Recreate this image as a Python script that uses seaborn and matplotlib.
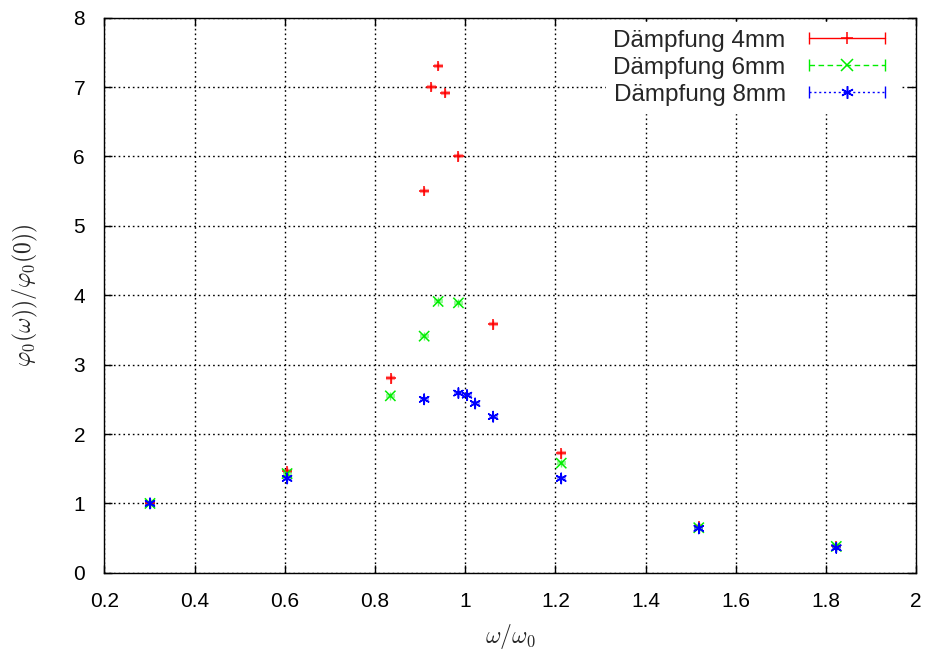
import matplotlib
matplotlib.use("Agg")
import matplotlib.pyplot as plt
from matplotlib.lines import Line2D
from matplotlib.legend_handler import HandlerLine2D, HandlerTuple
import seaborn as sns
import pandas as pd

# Messwerte: omega/omega_0 und Amplitudenverhaeltnis
x_4mm = [0.301, 0.605, 0.835, 0.909, 0.925, 0.940, 0.956, 0.985, 1.062, 1.213, 1.518, 1.823]
y_4mm = [1.01, 1.47, 2.80, 5.50, 7.00, 7.30, 6.91, 6.00, 3.58, 1.72, 0.67, 0.39]

x_6mm = [0.301, 0.605, 0.834, 0.909, 0.940, 0.985, 1.213, 1.518, 1.823]
y_6mm = [1.00, 1.43, 2.55, 3.41, 3.91, 3.89, 1.58, 0.65, 0.38]

x_8mm = [0.301, 0.605, 0.909, 0.985, 1.004, 1.022, 1.062, 1.213, 1.518, 1.823]
y_8mm = [1.00, 1.36, 2.50, 2.59, 2.56, 2.44, 2.25, 1.36, 0.64, 0.36]

labels = ["Dämpfung 4mm", "Dämpfung 6mm", "Dämpfung 8mm"]

df = pd.concat([
    pd.DataFrame({"x": x_4mm, "y": y_4mm, "serie": labels[0]}),
    pd.DataFrame({"x": x_6mm, "y": y_6mm, "serie": labels[1]}),
    pd.DataFrame({"x": x_8mm, "y": y_8mm, "serie": labels[2]}),
])

sns.set_theme(style="ticks")
plt.rcParams["font.family"] = ["Liberation Sans", "DejaVu Sans"]
plt.rcParams["mathtext.fontset"] = "cm"

fig = plt.figure(figsize=(9.31, 6.6), dpi=100)
ax = fig.add_axes([0.1122, 0.1321, 0.8718, 0.8412])

farben = {labels[0]: "#ff0000", labels[1]: "#00ee00", labels[2]: "#0000ff"}
marker = {labels[0]: "+", labels[1]: "x", labels[2]: (6, 2, 0)}
stile = {labels[0]: "-", labels[1]: (0, (4, 2.5)), labels[2]: (0, (1.5, 2))}

# kleine Fehlerbalken wie bei gnuplot (halbtransparent)
for name, grp in df.groupby("serie", sort=False):
    ax.errorbar(grp["x"], grp["y"], xerr=0.01, fmt="none",
                ecolor=farben[name], elinewidth=3.0, capsize=0, alpha=0.4, zorder=3)
    ax.errorbar(grp["x"], grp["y"], yerr=0.06, fmt="none",
                ecolor=farben[name], elinewidth=1.0, capsize=0, alpha=0.6, zorder=3)

sns.scatterplot(data=df, x="x", y="y", hue="serie", style="serie",
                palette=farben, markers=marker, s=55, linewidth=1.1,
                legend=False, ax=ax, zorder=4)

ax.set_xlim(0.2, 2.0)
ax.set_ylim(0, 8)
ax.set_xticks([0.2, 0.4, 0.6, 0.8, 1.0, 1.2, 1.4, 1.6, 1.8, 2.0])
ax.set_xticklabels(["0.2", "0.4", "0.6", "0.8", "1", "1.2", "1.4", "1.6", "1.8", "2"])
ax.set_yticks(range(0, 9))
ax.grid(True, color="black", linestyle=(0, (1.2, 2.2)), linewidth=1.0)
ax.tick_params(axis="x", direction="in", top=True, length=6, width=1.0,
               labelsize=15, colors="black", pad=14)
ax.tick_params(axis="y", direction="in", right=True, length=6, width=1.0,
               labelsize=15, colors="black", pad=14)
for s in ax.spines.values():
    s.set_visible(True)
    s.set_color("black")
    s.set_linewidth(1.0)

ax.set_xlabel(r"$\omega/\omega_0$", fontsize=17, labelpad=8)
ax.set_ylabel(r"$\varphi_0(\omega))/\varphi_0(0))$", fontsize=17, labelpad=24)

# Legende: Linie mit Endstrichen, Symbol in der Mitte
handles = []
hmap = {}
for n in labels:
    linie = Line2D([0], [0], color=farben[n], linestyle=stile[n], marker="|",
                   markersize=9, markeredgewidth=1.0, linewidth=1.0)
    symbol = Line2D([0], [0], color=farben[n], linestyle="none", marker=marker[n],
                    markersize=9, markeredgewidth=1.1)
    hmap[linie] = HandlerLine2D(numpoints=2)
    hmap[symbol] = HandlerLine2D(numpoints=1)
    handles.append((linie, symbol))
hmap[tuple] = HandlerTuple(ndivide=1, pad=0)
leg = ax.legend(handles, labels, loc="upper right", frameon=True, fontsize=17.5,
                markerfirst=False, handlelength=3.75, borderaxespad=0.2,
                borderpad=0.3, handletextpad=0.65, labelspacing=0.2,
                fancybox=False, handler_map=hmap, bbox_to_anchor=(0.986, 1.0))
leg.get_frame().set_edgecolor("white")
leg.get_frame().set_facecolor("white")
leg.get_frame().set_alpha(1.0)
leg.set_zorder(5)

fig.savefig("out.png", dpi=100)
